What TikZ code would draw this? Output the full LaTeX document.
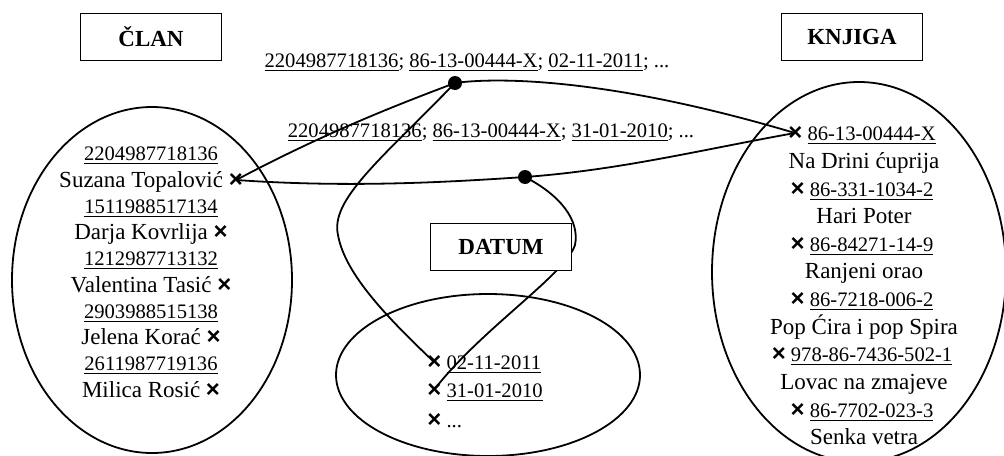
\documentclass[tikz,border=0pt]{standalone}
\usepackage{fontspec}
\setmainfont{Liberation Serif}
\setsansfont{Liberation Sans}

\newcommand{\krst}{{\sffamily\bfseries\fontsize{12}{13}\selectfont ×}}
\newcommand{\velika}{\fontsize{11.5}{13}\selectfont}
\newcommand{\mala}{\fontsize{10.3}{12}\selectfont}

\begin{document}
\begin{tikzpicture}[x=0.5pt,y=0.5pt,
  ime/.style={inner sep=0pt,anchor=base,font=\velika},
  broj/.style={inner sep=0pt,anchor=base,font=\mala},
  okvir/.style={draw,line width=0.9pt,fill=white,minimum width=70.5pt,minimum height=23.5pt,font=\velika\bfseries},
  tacka/.style={circle,fill=black,inner sep=0pt,minimum size=7pt},
  veza/.style={line width=0.9pt}]

\useasboundingbox (0,0) rectangle (1004,-455);


%the three sets
\draw [line width=0.9pt] (152,-280) ellipse (70pt and 86.5pt); % clanovi
\draw [line width=0.9pt] (859,-272) ellipse (73.5pt and 95pt); % knjige
\draw [line width=0.9pt] (488,-375) ellipse (76pt and 40.5pt); % datumi


%members
\node[broj] (c1) at (151,-160) {\underline{2204987718136}};
\node[ime] (s1) at (151,-187) {Suzana Topalović \krst};
\node[broj] (c2) at (151,-213) {\underline{1511988517134}};
\node[ime] (s2) at (151,-239) {Darja Kovrlija \krst};
\node[broj] (c3) at (151,-265) {\underline{1212987713132}};
\node[ime] (s3) at (151,-292) {Valentina Tasić \krst};
\node[broj] (c4) at (151,-318) {\underline{2903988515138}};
\node[ime] (s4) at (151,-344) {Jelena Korać \krst};
\node[broj] (c5) at (151,-370) {\underline{2611987719136}};
\node[ime] (s5) at (151,-397) {Milica Rosić \krst};


%books
\node[broj] (k1) at (862,-140) {\krst\ \underline{86-13-00444-X}};
\node[ime] (n1) at (864,-168) {Na Drini ćuprija};
\node[broj] (k2) at (862,-196) {\krst\ \underline{86-331-1034-2}};
\node[ime] (n2) at (864,-223) {Hari Poter};
\node[broj] (k3) at (862,-251) {\krst\ \underline{86-84271-14-9}};
\node[ime] (n3) at (864,-278) {Ranjeni orao};
\node[broj] (k4) at (862,-306) {\krst\ \underline{86-7218-006-2}};
\node[ime] (n4) at (864,-334) {Pop Ćira i pop Spira};
\node[broj] (k5) at (862,-361) {\krst\ \underline{978-86-7436-502-1}};
\node[ime] (n5) at (864,-389) {Lovac na zmajeve};
\node[broj] (k6) at (862,-417) {\krst\ \underline{86-7702-023-3}};
\node[ime] (n6) at (864,-444) {Senka vetra};


%dates
\node[broj,anchor=base west] (d1) at (427,-369) {\krst\ \underline{02-11-2011}};
\node[broj,anchor=base west] (d2) at (427,-397) {\krst\ \underline{31-01-2010}};
\node[broj,anchor=base west] (d3) at (427,-427) {\krst\ ...};


%tuples above the links
\node[broj] (p1) at (467,-67) {\underline{2204987718136}; \underline{86-13-00444-X}; \underline{02-11-2011}; ...};
\node[broj] (p2) at (491,-137) {\underline{2204987718136}; \underline{86-13-00444-X}; \underline{31-01-2010}; ...};


%where the links end (the crosses)
\coordinate (xs1) at ([xshift=-3.5pt,yshift=3.5pt]s1.base east);
\coordinate (xk1) at ([xshift=3.5pt,yshift=3.5pt]k1.base west);
\coordinate (xd1) at ([xshift=3.5pt,yshift=3.5pt]d1.base west);
\coordinate (xd2) at ([xshift=3.5pt,yshift=3.5pt]d2.base west);

\node[tacka] (t1) at (455,-83) {}; % first borrowing
\node[tacka] (t2) at (525,-177) {}; % second borrowing


%links
\draw[veza] (xs1) .. controls (330,-130) and (410,-100) .. (t1.center) .. controls (490,-78) and (600,-75) .. (xk1); % upper
\draw[veza] (xs1) .. controls (350,-188) and (450,-182) .. (t2.center) .. controls (620,-170) and (700,-150) .. (xk1); % lower
\draw[veza] (t1.center) .. controls (380,-160) and (330,-200) .. (338,-235) .. controls (345,-275) and (390,-320) .. (xd1); % to 02-11-2011
\draw[veza] (t2.center) .. controls (560,-195) and (580,-220) .. (575,-245) .. controls (565,-275) and (480,-330) .. (xd2); % to 31-01-2010


%set names
\node[okvir] (clan) at (151,-37) {ČLAN};
\node[okvir] (knjiga) at (852,-37) {KNJIGA};
\node[okvir] (datum) at (501,-247) {DATUM};

\end{tikzpicture}
\end{document}
